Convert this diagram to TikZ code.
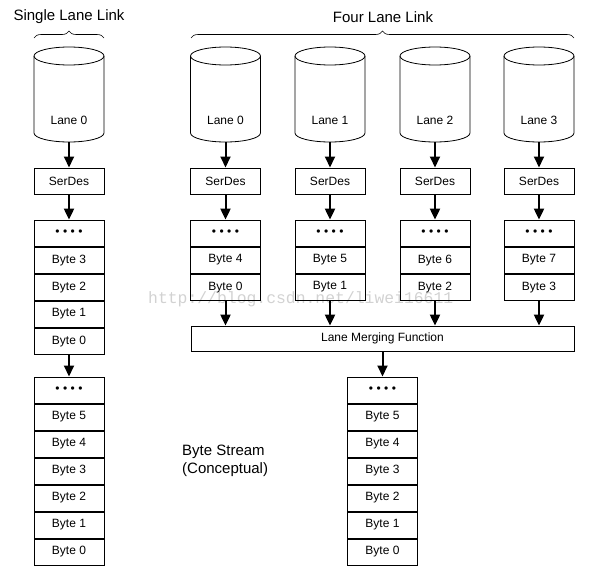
\documentclass[tikz,border=0pt]{standalone}
\usepackage{fontspec}
\setmainfont{Liberation Sans}
\newfontfamily\wmfont{Liberation Mono}
\usetikzlibrary{arrows.meta,decorations.pathreplacing,calc}

\tikzset{
 cell/.style={draw, line width=0.8pt, minimum width=70pt, minimum height=26.2pt, inner sep=0pt, font=\fontsize{12}{14}\selectfont},
 arr/.style={line width=2pt, -{Triangle[length=11pt,width=10pt]}},
 cyl/.style={draw, line width=0.8pt},
 ttl/.style={font=\fontsize{15}{18}\selectfont},
 lbl/.style={font=\fontsize{12}{14}\selectfont},
 brc/.style={decorate, decoration={brace, amplitude=7pt}, line width=0.6pt},
}
\newcommand{\dotsrow}{\textbullet\hspace{3.5pt}\textbullet\hspace{3.5pt}\textbullet\hspace{3.5pt}\textbullet}
\newcommand{\lanecyl}[3]{%
 \draw[cyl] (#2-35,-56) -- (#2-35,-133) arc[start angle=180,end angle=360,x radius=35pt,y radius=9pt] -- (#2+35,-56);
 \draw[cyl] (#2,-56) ellipse[x radius=35pt,y radius=9pt];
 \node[lbl] (#1) at (#2,-120) {#3};
 \coordinate (#1-b) at (#2,-142);
}

\begin{document}
\begin{tikzpicture}[x=1pt,y=1pt]
\useasboundingbox (0,0) rectangle (592,-570);

% watermark
\node[anchor=base west, inner sep=0pt, text=gray!35, font=\wmfont\fontsize{16.4}{18}\selectfont] (wm) at (148,-303) {http://blog.csdn.net/liwei16611};

% titles and braces
\node[ttl] (t1) at (69,-17) {Single Lane Link};
\node[ttl] (t2) at (383,-17) {Four Lane Link};
\coordinate (b1l) at (34,-38); \coordinate (b1r) at (104,-38);
\coordinate (b2l) at (191,-38); \coordinate (b2r) at (574,-38);
\draw[brc] (b1l) -- (b1r);
\draw[brc] (b2l) -- (b2r);

% single lane
\lanecyl{sl}{69}{Lane 0}
\node[cell] (ss) at (69,-181) {SerDes};
\node[cell] (sa0) at (69,-233.1) {\dotsrow};
\node[cell,anchor=north] (sa1) at (sa0.south) {Byte 3};
\node[cell,anchor=north] (sa2) at (sa1.south) {Byte 2};
\node[cell,anchor=north] (sa3) at (sa2.south) {Byte 1};
\node[cell,anchor=north] (sa4) at (sa3.south) {Byte 0};
\draw[arr] (sl-b) -- (ss.north);
\draw[arr] (ss.south) -- (sa0.north);

% single lane byte stream
\node[cell] (sb0) at (69,-390) {\dotsrow};
\node[cell,anchor=north] (sb1) at (sb0.south) {Byte 5};
\node[cell,anchor=north] (sb2) at (sb1.south) {Byte 4};
\node[cell,anchor=north] (sb3) at (sb2.south) {Byte 3};
\node[cell,anchor=north] (sb4) at (sb3.south) {Byte 2};
\node[cell,anchor=north] (sb5) at (sb4.south) {Byte 1};
\node[cell,anchor=north] (sb6) at (sb5.south) {Byte 0};
\draw[arr] (sa4.south) -- (sb0.north);

% four lanes
\node[cell, minimum width=383pt, minimum height=25pt] (merge) at (382.5,-338.5) {Lane Merging Function};
\foreach \i/\x/\hi in {0/225.5/4, 1/330/5, 2/435/6, 3/539/7}{
 \lanecyl{fl\i}{\x}{Lane \i}
 \node[cell] (fs\i) at (\x,-181) {SerDes};
 \node[cell] (fa\i) at (\x,-233.1) {\dotsrow};
 \node[cell,anchor=north] (fb\i) at (fa\i.south) {Byte \hi};
 \node[cell,anchor=north] (fc\i) at (fb\i.south) {Byte \i};
 \draw[arr] (fl\i-b) -- (fs\i.north);
 \draw[arr] (fs\i.south) -- (fa\i.north);
 \draw[arr] (fc\i.south) -- (fc\i.south |- merge.north);
}

% merged byte stream
\node[cell] (mb0) at (382.5,-390) {\dotsrow};
\node[cell,anchor=north] (mb1) at (mb0.south) {Byte 5};
\node[cell,anchor=north] (mb2) at (mb1.south) {Byte 4};
\node[cell,anchor=north] (mb3) at (mb2.south) {Byte 3};
\node[cell,anchor=north] (mb4) at (mb3.south) {Byte 2};
\node[cell,anchor=north] (mb5) at (mb4.south) {Byte 1};
\node[cell,anchor=north] (mb6) at (mb5.south) {Byte 0};
\draw[arr] (merge.south) -- (mb0.north);

\node[ttl, anchor=west, align=left, inner sep=0pt] (bs) at (182,-461) {Byte Stream\\(Conceptual)};
\end{tikzpicture}
\end{document}
